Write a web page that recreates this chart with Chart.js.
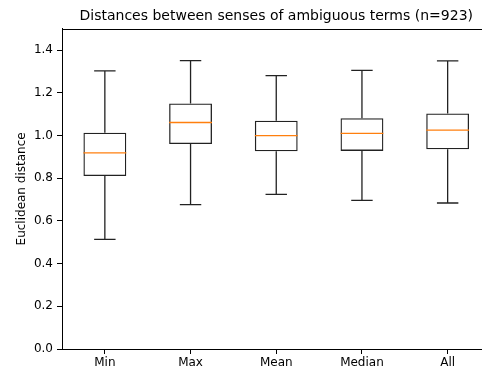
<!DOCTYPE html>
<html>
<head>
<meta charset="utf-8">
<script src="https://cdn.jsdelivr.net/npm/chart.js@4"></script>
<style>
html,body{margin:0;padding:0;overflow:hidden;background:#fff;width:482px;height:369px;}
canvas{display:block;}
</style>
</head>
<body>
<canvas id="c" width="552" height="369"></canvas>
<script>
const categories = ['Min', 'Max', 'Mean', 'Median', 'All'];
const whiskerLow  = [0.514, 0.676, 0.724, 0.696, 0.684];
const q1          = [0.810, 0.960, 0.926, 0.928, 0.936];
const medians     = [0.919, 1.061, 1.000, 1.010, 1.025];
const q3          = [1.013, 1.150, 1.069, 1.081, 1.103];
const whiskerHigh = [1.303, 1.351, 1.281, 1.305, 1.350];
const yTicks = [0.0, 0.2, 0.4, 0.6, 0.8, 1.0, 1.2, 1.4];

const FONT = 'DejaVu Sans';
const LW = 1.3;

const boxPlugin = {
  id: 'boxParts',
  afterDatasetsDraw(chart) {
    const ctx = chart.ctx;
    const xs = chart.scales.x, ys = chart.scales.y;
    const cat = (xs.right - xs.left) / categories.length;
    const boxHalf = cat * 0.25, capHalf = cat * 0.125;
    ctx.save();
    ctx.lineWidth = LW;
    categories.forEach((c, i) => {
      const x = xs.getPixelForValue(i);
      ctx.strokeStyle = '#222';
      ctx.beginPath();
      ctx.moveTo(x, ys.getPixelForValue(q3[i]));
      ctx.lineTo(x, ys.getPixelForValue(whiskerHigh[i]));
      ctx.moveTo(x, ys.getPixelForValue(q1[i]));
      ctx.lineTo(x, ys.getPixelForValue(whiskerLow[i]));
      const yh = ys.getPixelForValue(whiskerHigh[i]);
      const yl = ys.getPixelForValue(whiskerLow[i]);
      ctx.moveTo(x - capHalf, yh); ctx.lineTo(x + capHalf, yh);
      ctx.moveTo(x - capHalf, yl); ctx.lineTo(x + capHalf, yl);
      ctx.stroke();
      ctx.strokeStyle = '#ff7f0e';
      const ym = ys.getPixelForValue(medians[i]);
      ctx.beginPath();
      ctx.moveTo(x - boxHalf, ym); ctx.lineTo(x + boxHalf, ym);
      ctx.stroke();
    });
    // top spine (right spine lies beyond the visible crop)
    const a = chart.chartArea;
    ctx.strokeStyle = '#000';
    ctx.lineWidth = 1;
    ctx.beginPath();
    ctx.moveTo(a.left, Math.round(a.top) + 0.5);
    ctx.lineTo(a.right, Math.round(a.top) + 0.5);
    ctx.stroke();
    ctx.restore();
  }
};

new Chart(document.getElementById('c'), {
  type: 'bar',
  data: {
    labels: categories,
    datasets: [{
      data: categories.map((c, i) => [q1[i], q3[i]]),
      backgroundColor: 'rgba(255,255,255,0)',
      borderColor: '#222',
      borderWidth: LW,
      borderSkipped: false,
      barPercentage: 0.5,
      categoryPercentage: 1.0
    }]
  },
  options: {
    responsive: false,
    devicePixelRatio: 1,
    animation: false,
    layout: { padding: { left: 0, right: 61.5, top: 0, bottom: 0 } },
    plugins: {
      legend: { display: false },
      tooltip: { enabled: false },
      title: {
        display: true,
        fullSize: false,
        text: 'Distances between senses of ambiguous terms (n=923)',
        color: '#000',
        font: { family: FONT, size: 14, weight: 'normal' },
        padding: { top: 8, bottom: 4 }
      }
    },
    scales: {
      x: {
        offset: true,
        grid: { display: true, drawOnChartArea: false, drawTicks: true, tickLength: 5, color: '#000', offset: false },
        border: { display: true, color: '#000' },
        ticks: { color: '#000', padding: 2, font: { family: FONT, size: 12 } },
        afterFit(s) { s.height = 20; }
      },
      y: {
        min: 0,
        max: 1.5,
        afterBuildTicks(s) { s.ticks = yTicks.map(v => ({ value: v })); },
        grid: { display: true, drawOnChartArea: false, drawTicks: true, tickLength: 5, color: '#000' },
        border: { display: true, color: '#000' },
        ticks: {
          color: '#000', padding: 4, font: { family: FONT, size: 12 },
          callback: v => Number(v).toFixed(1)
        },
        title: {
          display: true, text: 'Euclidean distance', color: '#000',
          font: { family: FONT, size: 12 }, padding: { top: 15, bottom: 0 }
        },
        afterFit(s) { s.width = 62; }
      }
    }
  },
  plugins: [boxPlugin]
});
</script>
</body>
</html>
